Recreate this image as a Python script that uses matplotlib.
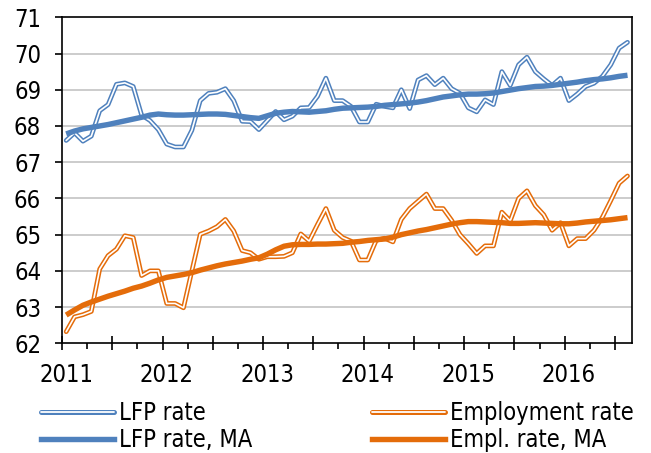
import matplotlib.pyplot as plt
from matplotlib.lines import Line2D

# monthly data, Jan 2011 .. Aug 2016 (category axis)
months = list(range(68))
year_labels = ['2011', '2012', '2013', '2014', '2015', '2016']
year_pos = [0, 12, 24, 36, 48, 60]

lfp = [67.60, 67.81, 67.58, 67.72, 68.42, 68.59, 69.15, 69.19, 69.09, 68.30,
       68.15, 67.90, 67.50, 67.42, 67.42, 67.88, 68.70, 68.90, 68.93, 69.03,
       68.70, 68.13, 68.12, 67.90, 68.15, 68.40, 68.17, 68.27, 68.50, 68.51,
       68.82, 69.32, 68.70, 68.70, 68.54, 68.11, 68.11, 68.60, 68.54, 68.50,
       69.00, 68.48, 69.27, 69.39, 69.14, 69.32, 69.03, 68.90, 68.50, 68.39,
       68.72, 68.59, 69.50, 69.12, 69.69, 69.90, 69.50, 69.30, 69.12, 69.32,
       68.70, 68.88, 69.09, 69.18, 69.37, 69.69, 70.15, 70.31]

lfp_ma = [67.78, 67.86, 67.92, 67.96, 68.00, 68.04, 68.09, 68.14, 68.19, 68.24,
          68.30, 68.33, 68.31, 68.30, 68.30, 68.31, 68.32, 68.33, 68.33, 68.32,
          68.29, 68.26, 68.23, 68.21, 68.28, 68.35, 68.38, 68.40, 68.39, 68.38,
          68.40, 68.42, 68.46, 68.49, 68.50, 68.51, 68.52, 68.54, 68.57, 68.59,
          68.61, 68.63, 68.66, 68.70, 68.75, 68.80, 68.83, 68.86, 68.88, 68.88,
          68.89, 68.91, 68.95, 68.99, 69.03, 69.06, 69.09, 69.10, 69.12, 69.15,
          69.18, 69.21, 69.25, 69.28, 69.30, 69.33, 69.37, 69.40]

emp = [62.32, 62.73, 62.79, 62.88, 64.05, 64.42, 64.60, 64.97, 64.92, 63.87,
       64.00, 64.00, 63.10, 63.10, 62.98, 64.00, 65.01, 65.10, 65.22, 65.42,
       65.10, 64.56, 64.50, 64.32, 64.39, 64.39, 64.40, 64.50, 65.02, 64.82,
       65.28, 65.72, 65.12, 64.92, 64.82, 64.30, 64.30, 64.84, 64.90, 64.80,
       65.42, 65.72, 65.92, 66.12, 65.72, 65.72, 65.40, 65.00, 64.75, 64.48,
       64.69, 64.69, 65.62, 65.38, 66.00, 66.21, 65.80, 65.55, 65.12, 65.33,
       64.69, 64.89, 64.89, 65.12, 65.48, 65.94, 66.42, 66.62]

emp_ma = [62.78, 62.92, 63.05, 63.14, 63.22, 63.30, 63.37, 63.44, 63.52, 63.58,
          63.66, 63.75, 63.82, 63.86, 63.90, 63.95, 64.02, 64.08, 64.14, 64.19,
          64.23, 64.27, 64.32, 64.36, 64.46, 64.58, 64.68, 64.72, 64.73, 64.73,
          64.74, 64.74, 64.75, 64.76, 64.79, 64.81, 64.84, 64.86, 64.88, 64.93,
          65.00, 65.05, 65.10, 65.14, 65.19, 65.24, 65.29, 65.33, 65.36, 65.36,
          65.35, 65.34, 65.33, 65.31, 65.31, 65.32, 65.33, 65.32, 65.31, 65.30,
          65.30, 65.32, 65.35, 65.37, 65.39, 65.41, 65.44, 65.47]

blue = '#4F81BD'
orange = '#E46C0A'

plt.rcParams['font.family'] = 'DejaVu Sans'
plt.rcParams['font.stretch'] = 'condensed'
plt.rcParams['font.size'] = 17

fig = plt.figure(figsize=(6.51, 4.53), dpi=100)
ax = fig.add_axes([62 / 651, 1 - 343.3 / 453, 569.7 / 651, 326 / 453])

# double lines: coloured outer, white core
dbl = dict(solid_capstyle='round', solid_joinstyle='round')
ax.plot(months, lfp, color=blue, lw=3.4, zorder=3, **dbl)
ax.plot(months, lfp, color='white', lw=1.2, zorder=3, **dbl)
ax.plot(months, emp, color=orange, lw=3.4, zorder=3, **dbl)
ax.plot(months, emp, color='white', lw=1.2, zorder=3, **dbl)
ax.plot(months, lfp_ma, color=blue, lw=3.9, zorder=4, solid_capstyle='butt')
ax.plot(months, emp_ma, color=orange, lw=3.9, zorder=4, solid_capstyle='butt')

ax.set_ylim(62, 71)
ax.set_yticks(range(62, 72))
ax.set_xlim(-0.5, 67.5)
for y in range(63, 71):
    ax.axhline(y, color='#BFBFBF', lw=1.1, zorder=1)

ax.set_xticks([-0.5 + 6 * k for k in range(12)])
ax.set_xticklabels([])
ax.set_xticks([-0.5 + 3 * k for k in range(23)], minor=True)
ax.tick_params(axis='x', which='major', direction='inout', length=10, width=1.2)
ax.tick_params(axis='x', which='minor', direction='out', length=4.5, width=1.2)
ax.tick_params(axis='y', direction='out', length=5, width=1.2, pad=10)

sec = ax.secondary_xaxis('bottom')
sec.set_xticks(year_pos)
sec.set_xticklabels(year_labels)
sec.tick_params(length=0, pad=14)
sec.spines['bottom'].set_visible(False)

for s in ax.spines.values():
    s.set_linewidth(1.2)
    s.set_zorder(5)

def dbl_handle(c):
    return (Line2D([], [], color=c, lw=3.6, solid_capstyle='round'),
            Line2D([], [], color='white', lw=1.3, solid_capstyle='round'))

leg_kw = dict(loc='upper left', frameon=False, borderpad=0, borderaxespad=0,
              handlelength=3.1, handletextpad=0.2, labelspacing=0.12)
h1 = [dbl_handle(blue), Line2D([], [], color=blue, lw=3.9)]
h2 = [dbl_handle(orange), Line2D([], [], color=orange, lw=3.9)]
fig.legend(h1, ['LFP rate', 'LFP rate, MA'], bbox_to_anchor=(40.7 / 651, 1 - 401 / 453), **leg_kw)
fig.legend(h2, ['Employment rate', 'Empl. rate, MA'], bbox_to_anchor=(372 / 651, 1 - 401 / 453), **leg_kw)

fig.savefig('out.png', dpi=100)
